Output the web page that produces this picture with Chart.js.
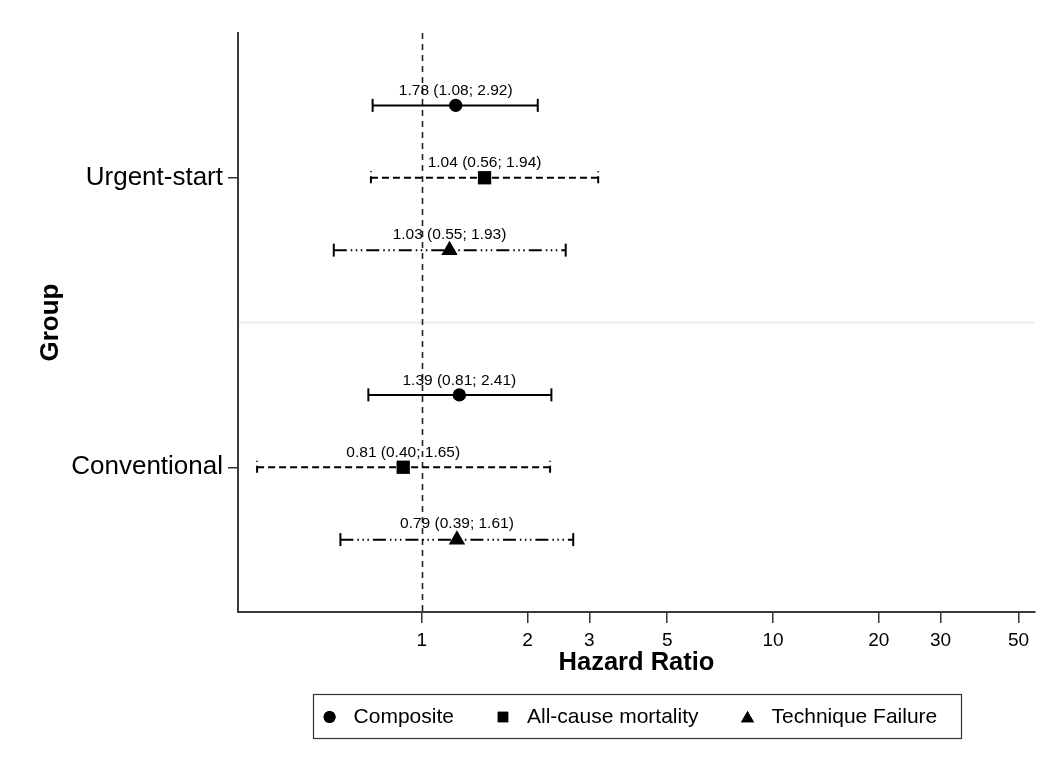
<!DOCTYPE html>
<html><head><meta charset="utf-8">
<script src="https://cdn.jsdelivr.net/npm/chart.js@4.4.0/dist/chart.umd.min.js"></script>
<style>html,body{margin:0;padding:0;background:#fff}#wrap{width:1049px;height:772px}canvas{display:block}</style>
</head><body><div id="wrap"><canvas id="c" width="1049" height="772"></canvas></div>
<script>
// ---- data (positions as drawn in the figure; labels as printed) ----
const groups = ['Urgent-start', 'Conventional'];
const outcomes = ['Composite', 'All-cause mortality', 'Technique Failure'];
const compositeEst = [1.25, 1.28];
const compositeLo  = [0.725, 0.705];
const compositeHi  = [2.14, 2.34];
const mortalityEst = [1.51, 0.886];
const mortalityLo  = [0.717, 0.34];
const mortalityHi  = [3.18, 2.32];
const failureEst   = [1.20, 1.26];
const failureLo    = [0.562, 0.587];
const failureHi    = [2.57, 2.70];
const compositeLabels = ['1.78 (1.08; 2.92)', '1.39 (0.81; 2.41)'];
const mortalityLabels = ['1.04 (0.56; 1.94)', '0.81 (0.40; 1.65)'];
const failureLabels   = ['1.03 (0.55; 1.93)', '0.79 (0.39; 1.61)'];
const xTicks = [1, 2, 3, 5, 10, 20, 30, 50];
const refValue = 1;

const FAM = "'Liberation Sans', Arial, Helvetica, sans-serif";
const rowOf = (g, o) => g * 4 + o + 1;

const series = [
  {est: compositeEst, lo: compositeLo, hi: compositeHi, labels: compositeLabels, style: 'circle', radius: 6.7,
   dash: [], capDash: [], capOffset: 0},
  {est: mortalityEst, lo: mortalityLo, hi: mortalityHi, labels: mortalityLabels, style: 'rect', radius: 9.4,
   dash: [7, 4], capDash: [7, 4], capOffset: 6},
  {est: failureEst, lo: failureLo, hi: failureHi, labels: failureLabels, style: 'triangle', radius: 9.5,
   dash: [13, 4, 1.5, 3.5, 1.5, 3.5, 1.5, 4], capDash: [], capOffset: 0}
];

const datasets = series.map((s, o) => ({
  label: outcomes[o],
  data: groups.map((g, gi) => ({x: s.est[gi], y: rowOf(gi, o)})),
  pointStyle: s.style,
  pointRadius: s.radius,
  pointHoverRadius: s.radius,
  backgroundColor: '#000',
  borderColor: '#000',
  borderWidth: 0,
  showLine: false
}));

const forestPlugin = {
  id: 'forest',
  beforeDatasetsDraw(chart) {
    const {ctx, chartArea: ca, scales: {x, y}} = chart;
    ctx.save();
    // separator between groups
    const ySep = y.getPixelForValue(4);
    ctx.strokeStyle = '#e5eded';
    ctx.lineWidth = 2;
    ctx.beginPath(); ctx.moveTo(ca.left + 1, ySep); ctx.lineTo(ca.right, ySep); ctx.stroke();
    // reference line
    const xr = Math.round(x.getPixelForValue(refValue)) + 0.5;
    ctx.strokeStyle = '#222';
    ctx.lineWidth = 1.6;
    ctx.setLineDash([6, 5]);
    ctx.beginPath(); ctx.moveTo(xr, ca.top); ctx.lineTo(xr, ca.bottom); ctx.stroke();
    // error bars
    ctx.strokeStyle = '#000';
    ctx.lineWidth = 2;
    series.forEach((s, o) => {
      groups.forEach((g, gi) => {
        const py = y.getPixelForValue(rowOf(gi, o));
        const x1 = x.getPixelForValue(s.lo[gi]);
        const x2 = x.getPixelForValue(s.hi[gi]);
        ctx.setLineDash(s.dash);
        ctx.lineDashOffset = 0;
        ctx.beginPath(); ctx.moveTo(x1, py); ctx.lineTo(x2, py); ctx.stroke();
        ctx.setLineDash(s.capDash);
        ctx.lineDashOffset = s.capOffset;
        [x1, x2].forEach(cx => {
          ctx.beginPath(); ctx.moveTo(cx, py - 6.5); ctx.lineTo(cx, py + 6.5); ctx.stroke();
        });
      });
    });
    ctx.restore();
  },
  afterDatasetsDraw(chart) {
    const {ctx, scales: {x, y}} = chart;
    ctx.save();
    ctx.fillStyle = '#000';
    ctx.font = '15.5px ' + FAM;
    ctx.textAlign = 'center';
    ctx.textBaseline = 'alphabetic';
    series.forEach((s, o) => {
      groups.forEach((g, gi) => {
        const px = x.getPixelForValue(s.est[gi]);
        const py = y.getPixelForValue(rowOf(gi, o));
        ctx.fillText(s.labels[gi], px, py - (o === 2 ? 11.5 : 10.3));
      });
    });
    ctx.restore();
  },
  afterDraw(chart) {
    const {ctx, chartArea: ca} = chart;
    ctx.save();
    const boxW = 648, boxH = 44;
    const cx = (ca.left + ca.right) / 2 + 0.5;
    const bx = cx - boxW / 2, by = 694;
    ctx.strokeStyle = '#333';
    ctx.lineWidth = 1.2;
    ctx.strokeRect(Math.round(bx) + 0.5, by + 0.5, boxW, boxH);
    ctx.font = '21px ' + FAM;
    ctx.textBaseline = 'middle';
    ctx.textAlign = 'left';
    ctx.fillStyle = '#000';
    const my = by + boxH / 2 + 1;
    let mx = bx + 16.6;
    const sizes = [6, 7.4, 7.5];
    series.forEach((s, o) => {
      ctx.fillStyle = '#000';
      Chart.helpers.drawPoint(ctx, {pointStyle: s.style, radius: sizes[o], rotation: 0, borderWidth: 0}, mx, my + (o === 2 ? 1.5 : 0));
      ctx.fill();
      const tx = mx + 24;
      ctx.fillText(outcomes[o], tx, my);
      mx = tx + ctx.measureText(outcomes[o]).width + 49;
    });
    ctx.restore();
  }
};

new Chart(document.getElementById('c'), {
  type: 'scatter',
  data: {datasets},
  plugins: [forestPlugin],
  options: {
    responsive: false,
    animation: false,
    devicePixelRatio: 1,
    layout: {padding: {top: 33, right: 14, bottom: 90, left: 0}},
    plugins: {legend: {display: false}, tooltip: {enabled: false}},
    scales: {
      x: {
        type: 'logarithmic', min: 0.303, max: 55.7,
        afterBuildTicks: s => { s.ticks = xTicks.map(v => ({value: v})); },
        afterFit: s => { s.height = 70; },
        ticks: {callback: v => String(v), color: '#000', font: {size: 19, family: FAM}, padding: 6, maxRotation: 0, autoSkip: false},
        grid: {drawOnChartArea: false, drawTicks: true, tickLength: 11, color: '#333', lineWidth: 1.5},
        border: {color: '#3a3a3a', width: 2},
        title: {display: true, text: 'Hazard Ratio', color: '#000', font: {size: 25.5, weight: 'bold', family: FAM}, padding: {top: 0, bottom: 4}}
      },
      y: {
        type: 'linear', reverse: true, min: 0, max: 8,
        afterBuildTicks: s => { s.ticks = groups.map((g, i) => ({value: rowOf(i, 1)})); },
        afterFit: s => { s.width = 238; },
        ticks: {callback: v => groups[Math.round((v - 2) / 4)], color: '#000', font: {size: 26, family: FAM}, padding: 5, autoSkip: false},
        grid: {drawOnChartArea: false, drawTicks: true, tickLength: 10, color: '#333', lineWidth: 1.5},
        border: {color: '#3a3a3a', width: 2},
        title: {display: true, text: 'Group', color: '#000', font: {size: 26, weight: 'bold', family: FAM}, padding: {top: 35, bottom: 0}}
      }
    }
  }
});
</script>
</body></html>
